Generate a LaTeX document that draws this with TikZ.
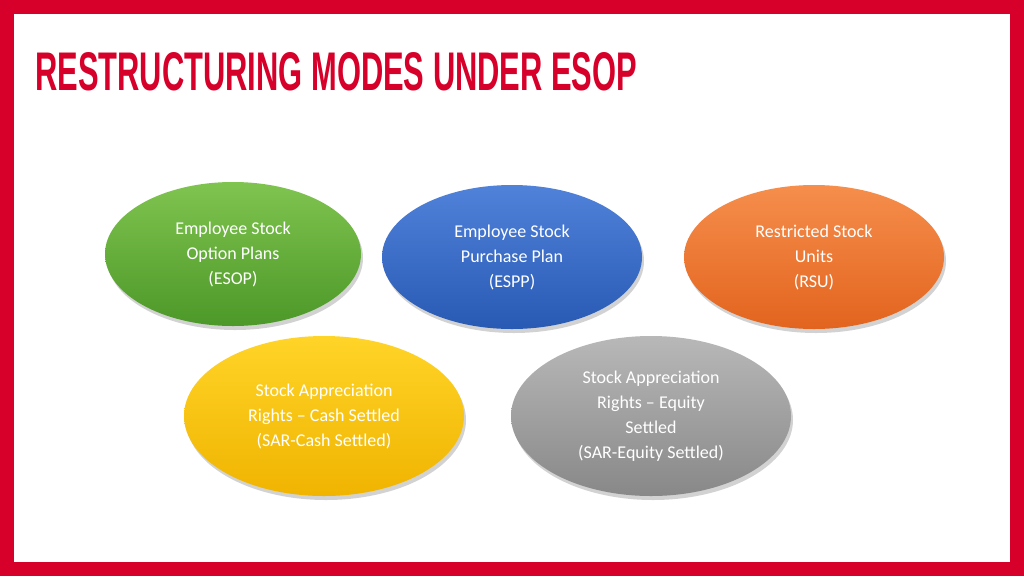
\documentclass[tikz,border=0pt]{standalone}
\usepackage{fontspec}
\setmainfont{Carlito}
\newfontfamily\titlefont{Liberation Sans}
\usetikzlibrary{shapes.geometric,shadows}
\definecolor{framered}{RGB}{214,0,42}
\tikzset{
  mode/.style={ellipse,inner sep=0pt,text=white,align=center,font=\fontsize{18}{25}\selectfont,
    drop shadow={shadow xshift=2pt,shadow yshift=-4pt,opacity=0.35}},
}
\begin{document}
\begin{tikzpicture}[x=1pt,y=-1pt]
  \fill[framered] (0,0) rectangle (1024,576);
  \fill[white] (14,14) rectangle (1010,562);
  \node[anchor=west,text=framered,inner sep=0pt] (title) at (35,72)
    {\resizebox{602pt}{38pt}{\titlefont\bfseries RESTRUCTURING MODES UNDER ESOP}};

  \node[mode,minimum width=256pt,minimum height=144pt,top color={rgb,255:red,128;green,196;blue,80},bottom color={rgb,255:red,76;green,152;blue,40}] (esop) at (233,254)
    {Employee Stock\\Option Plans\\(ESOP)};
  \node[mode,minimum width=260pt,minimum height=144pt,top color={rgb,255:red,80;green,130;blue,218},bottom color={rgb,255:red,40;green,90;blue,180}] (espp) at (512,257)
    {Employee Stock\\Purchase Plan\\(ESPP)};
  \node[mode,minimum width=260pt,minimum height=144pt,top color={rgb,255:red,246;green,142;blue,76},bottom color={rgb,255:red,226;green,100;blue,30}] (rsu) at (814,257)
    {Restricted Stock\\Units\\(RSU)};
  \node[mode,minimum width=280pt,minimum height=160pt,top color={rgb,255:red,255;green,212;blue,40},bottom color={rgb,255:red,240;green,180;blue,0}] (sarcash) at (324,416)
    {Stock Appreciation\\Rights -- Cash Settled\\(SAR-Cash Settled)};
  \node[mode,minimum width=280pt,minimum height=160pt,top color={rgb,255:red,184;green,184;blue,184},bottom color={rgb,255:red,136;green,136;blue,136}] (sarequity) at (651,416)
    {Stock Appreciation\\Rights -- Equity\\Settled\\(SAR-Equity Settled)};
\end{tikzpicture}
\end{document}
